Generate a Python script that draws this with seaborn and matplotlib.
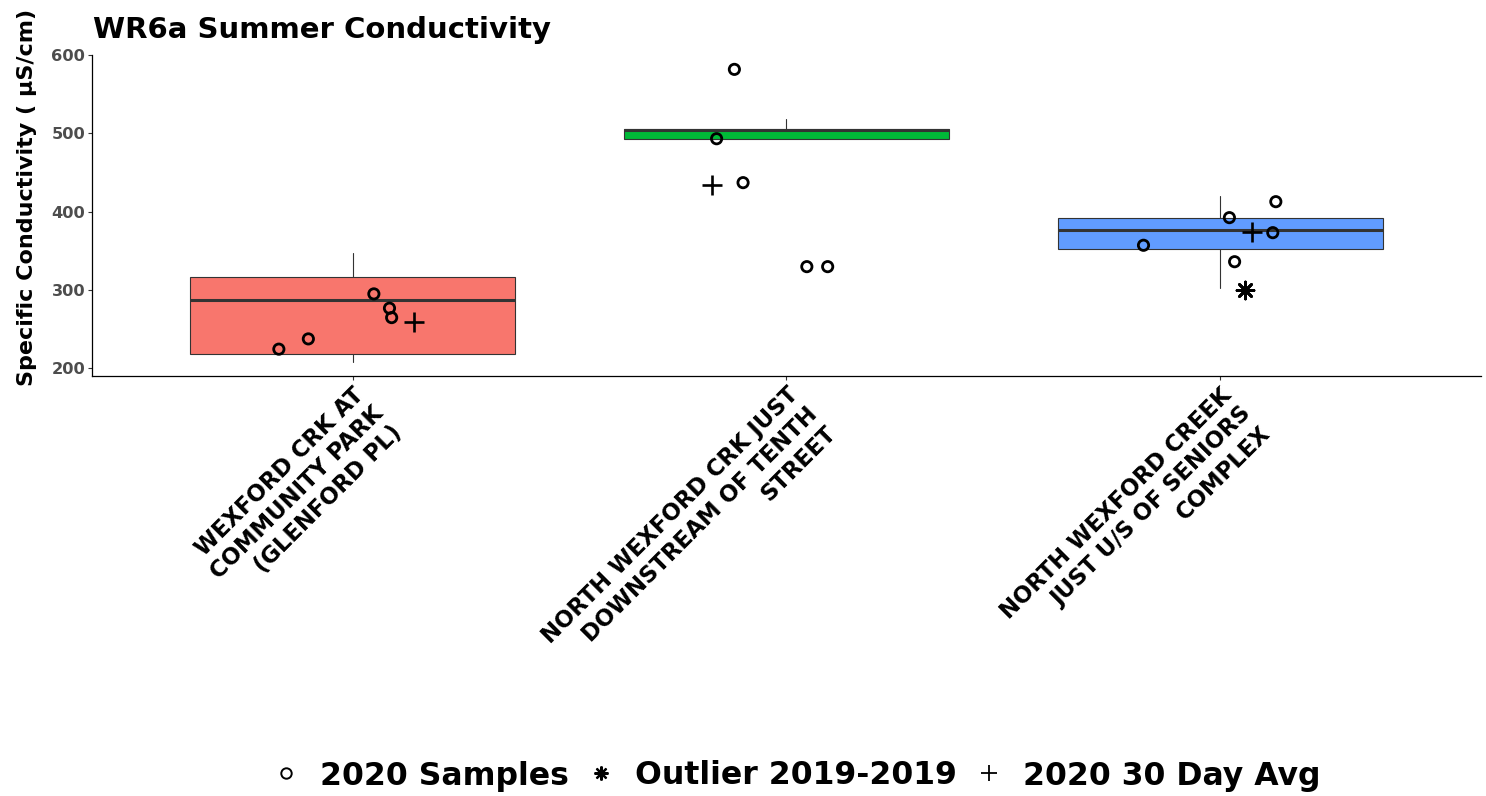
import numpy as np
import pandas as pd
import matplotlib
matplotlib.use("Agg")
import matplotlib.pyplot as plt
from matplotlib.lines import Line2D
import seaborn as sns

# ---------------- data ----------------
sites = [
    "WEXFORD CRK AT\nCOMMUNITY PARK\n(GLENFORD PL)",
    "NORTH WEXFORD CRK JUST\nDOWNSTREAM OF TENTH\nSTREET",
    "NORTH WEXFORD CREEK\nJUST U/S OF SENIORS\nCOMPLEX",
]
box_colors = ["#F8766D", "#00BA38", "#619CFF"]

# historical box statistics per site
whisker_low = [208.4, 492.7, 302.1]
q1 = [218.6, 492.7, 351.9]
median = [287.6, 504.2, 376.2]
q3 = [316.2, 505.1, 391.5]
whisker_high = [346.8, 518.3, 420.0]

# 2020 samples (site index, jitter, value)
sample_site = [0, 0, 0, 0, 0, 1, 1, 1, 1, 1, 2, 2, 2, 2, 2]
sample_jitter = [-0.170, -0.102, 0.049, 0.085, 0.090,
                 -0.120, -0.161, -0.100, 0.047, 0.095,
                 -0.177, 0.021, 0.128, 0.121, 0.033]
sample_value = [224.3, 237.4, 294.9, 276.6, 264.6,
                581.7, 493.1, 437.0, 329.7, 329.7,
                357.0, 392.3, 412.7, 373.1, 336.0]

# 2020 30 day averages
avg_site = [0, 1, 2]
avg_jitter = [0.141, -0.172, 0.074]
avg_value = [259.5, 434.0, 374.4]

# outliers 2019-2019
out_site = [2]
out_jitter = [0.058]
out_value = [300.0]

title = "WR6a Summer Conductivity"
ylabel = "Specific Conductivity ( \u03bcS/cm)"
yticks = [200, 300, 400, 500, 600]
legend_labels = ["2020 Samples", "Outlier 2019-2019", "2020 30 Day Avg"]

# ---------------- figure ----------------
sns.set_style("white")
plt.rcParams["font.family"] = ["DejaVu Sans"]

W, H = 1486, 796
fig = plt.figure(figsize=(W / 100, H / 100), dpi=100)
ax_l, ax_r, ax_t, ax_b = 92.3, 1480.6, 54.5, 376.0
ax = fig.add_axes([ax_l / W, 1 - ax_b / H, (ax_r - ax_l) / W, (ax_b - ax_t) / H])

stats = []
for i in range(len(sites)):
    stats.append(dict(whislo=whisker_low[i], q1=q1[i], med=median[i],
                      q3=q3[i], whishi=whisker_high[i], fliers=[]))
bp = ax.bxp(stats, positions=list(range(len(sites))), widths=0.75,
            showcaps=False, showfliers=False, patch_artist=True,
            boxprops=dict(edgecolor="#333333", linewidth=0.8),
            whiskerprops=dict(color="#333333", linewidth=0.8),
            medianprops=dict(color="#333333", linewidth=2.2),
            zorder=1)
for patch, c in zip(bp["boxes"], box_colors):
    patch.set_facecolor(c)

samples = pd.DataFrame({"x": np.array(sample_site) + np.array(sample_jitter),
                        "y": sample_value})
avgs = pd.DataFrame({"x": np.array(avg_site) + np.array(avg_jitter),
                     "y": avg_value})
outs = pd.DataFrame({"x": np.array(out_site) + np.array(out_jitter),
                     "y": out_value})

sns.scatterplot(data=samples, x="x", y="y", ax=ax, marker="o", s=55,
                facecolor="none", edgecolor="black", linewidth=2.0, zorder=3)
sns.scatterplot(data=avgs, x="x", y="y", ax=ax, marker="+", s=190,
                color="black", edgecolor="black", linewidth=1.9, zorder=3)
sns.scatterplot(data=outs, x="x", y="y", ax=ax, marker=(8, 2, 0), s=150,
                color="black", edgecolor="black", linewidth=2.0, zorder=3)

ax.set_xlim(-0.6, len(sites) - 0.4)
ax.set_ylim(190.0, 600.7)
ax.set_yticks(yticks)
ax.set_yticklabels([str(v) for v in yticks], fontsize=11.7, fontweight="bold",
                   color="#4D4D4D")
ax.set_xticks(list(range(len(sites))))
ax.set_xticklabels(sites, fontsize=16.3, fontweight="bold", color="black",
                   rotation=45, ha="right", va="top", rotation_mode="anchor",
                   multialignment="right", linespacing=1.22)
ax.tick_params(axis="both", direction="out", length=3, width=0.8,
               color="#333333", pad=2.2, bottom=True, left=True)
ax.set_xlabel("")
ax.set_ylabel(ylabel, fontsize=16, fontweight="bold", color="black")
ax.yaxis.set_label_coords((37 - ax_l) / (ax_r - ax_l), (ax_b - 197) / (ax_b - ax_t))

for s in ["top", "right"]:
    ax.spines[s].set_visible(False)
for s in ["left", "bottom"]:
    ax.spines[s].set_color("black")
    ax.spines[s].set_linewidth(0.9)
ax.grid(False)

fig.text(93 / W, 1 - 38 / H, title, fontsize=21, fontweight="bold",
         ha="left", va="baseline", color="black")

handles = [
    Line2D([], [], linestyle="none", marker="o", markersize=7.5,
           markerfacecolor="none", markeredgecolor="black", markeredgewidth=1.4),
    Line2D([], [], linestyle="none", marker=(8, 2, 0), markersize=10,
           color="black", markeredgewidth=1.6),
    Line2D([], [], linestyle="none", marker="+", markersize=11,
           color="black", markeredgewidth=1.3),
]
fig.legend(handles, legend_labels, loc="center", bbox_to_anchor=(797 / W, 1 - 776 / H),
           ncol=3, frameon=False, prop=dict(size=22.7, weight="bold"),
           labelcolor="black",
           handlelength=0.8, handletextpad=0.7, columnspacing=0.6,
           borderaxespad=0, borderpad=0)

fig.savefig("out.png", dpi=100)
